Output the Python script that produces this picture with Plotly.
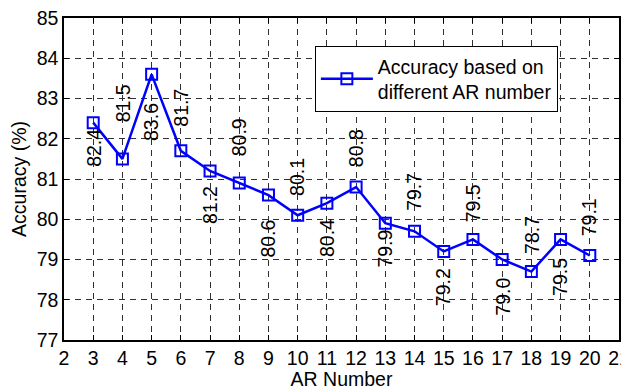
import plotly.graph_objects as go

ar_number = [3, 4, 5, 6, 7, 8, 9, 10, 11, 12, 13, 14, 15, 16, 17, 18, 19, 20]
accuracy = [82.4, 81.5, 83.6, 81.7, 81.2, 80.9, 80.6, 80.1, 80.4, 80.8,
            79.9, 79.7, 79.2, 79.5, 79.0, 78.7, 79.5, 79.1]
x_ticks = list(range(2, 22))
y_ticks = list(range(77, 86))
series_name = "Accuracy based on<br>different AR number"

# label placement (style): +1 above the point, -1 below; pixel gap from point
label_side = [-1, 1, -1, 1, -1, 1, -1, 1, -1, 1, -1, 1, -1, 1, -1, 1, -1, 1]
label_gap = [5, 36, 28, 23, 14, 26, 23, 18, 15, 19, 5, 19, 16, 16, 17, 17, 18, 18]

FONT = "Liberation Sans, Arial, sans-serif"
FS = 19.5

fig = go.Figure()
fig.add_trace(go.Scatter(
    x=ar_number, y=accuracy, mode="lines+markers", name=series_name,
    line=dict(color="#0000FF", width=2.5),
    marker=dict(symbol="square-open", size=11, color="#0000FF",
                line=dict(color="#0000FF", width=2)),
))

annotations = []
for xv, yv, side, gap in zip(ar_number, accuracy, label_side, label_gap):
    annotations.append(dict(
        x=xv, y=yv, xref="x", yref="y", text=f"{yv:.1f}", showarrow=False,
        textangle=-90, font=dict(family=FONT, size=FS, color="black"),
        xanchor="center", yanchor="bottom" if side > 0 else "top",
        yshift=side * gap, borderpad=0,
    ))

axis_common = dict(
    showline=True, linecolor="black", linewidth=1.5, mirror="ticks",
    ticks="inside", ticklen=5, tickcolor="black",
    showgrid=True, gridcolor="#303030", gridwidth=1, griddash="6px,5px",
    zeroline=False, tickfont=dict(family=FONT, size=FS, color="black"),
    automargin=False, ticklabeloverflow="allow",
)

# page body has an 8px margin, so the figure is sized/margined to compensate
fig.update_layout(
    width=621, height=382,
    margin=dict(l=56, r=10, t=10, b=50, autoexpand=False),
    plot_bgcolor="white", paper_bgcolor="white",
    font=dict(family=FONT, size=FS, color="black"),
    xaxis=dict(range=[2, 21], tickvals=x_ticks, ticktext=[str(t) for t in x_ticks],
               title=dict(text="AR Number", font=dict(family=FONT, size=FS), standoff=0),
               **axis_common),
    yaxis=dict(range=[77, 85], tickvals=y_ticks, ticktext=[str(t) for t in y_ticks],
               title=dict(text="Accuracy (%)", font=dict(family=FONT, size=FS), standoff=6),
               **axis_common),
    showlegend=True,
    legend=dict(x=0.452, y=0.913, xanchor="left", yanchor="top",
                bgcolor="white", bordercolor="black", borderwidth=1,
                font=dict(family=FONT, size=FS, color="black"),
                itemwidth=52),
    annotations=annotations,
)

fig.write_html("out.html")
